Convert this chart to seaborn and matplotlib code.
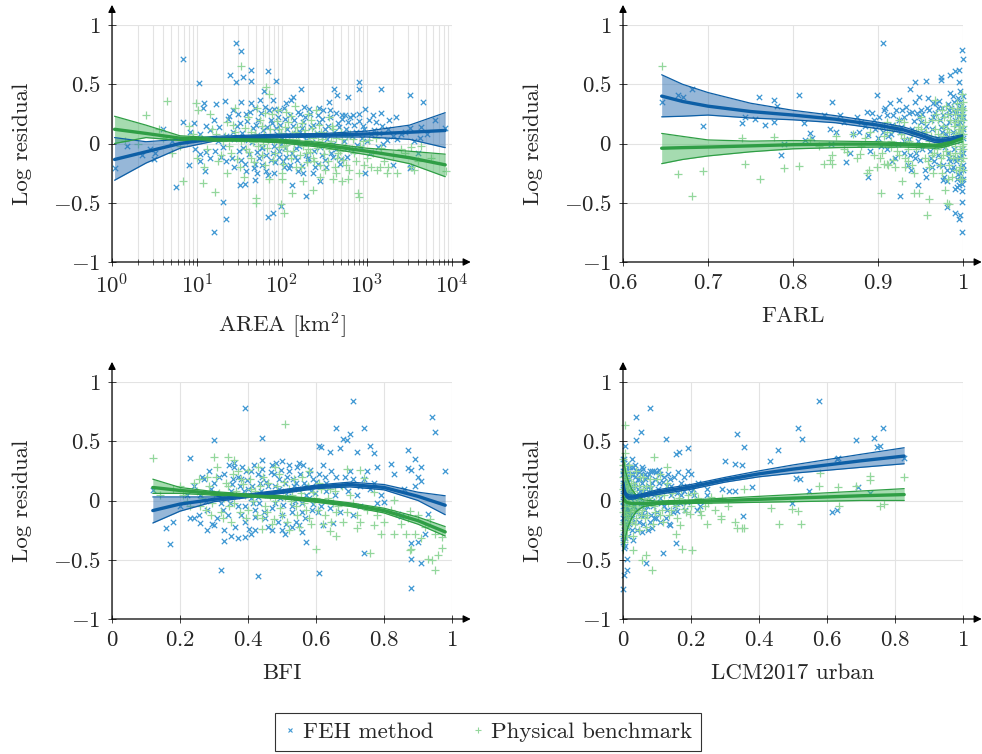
import numpy as np
import pandas as pd
import matplotlib
matplotlib.use("Agg")
import matplotlib.pyplot as plt
import seaborn as sns
from matplotlib.lines import Line2D

# ---------------- data ----------------
# Panel 1: AREA (stored as log10 of km^2), log residual
area_feh = [
    (1.46, 0.845), (1.52, 0.78), (0.84, 0.71), (1.02, 0.51), (1.39, 0.58), (1.46, 0.52), (1.54, 0.56),
    (1.64, 0.62), (1.63, 0.53), (1.84, 0.61), (1.93, 0.53), (2.90, 0.52), (2.90, 0.46), (3.16, 0.46),
    (3.51, 0.41), (3.66, 0.35), (2.78, 0.39), (2.61, 0.46), (2.65, 0.41), (2.22, 0.46), (2.13, 0.39),
    (0.75, -0.37), (1.30, -0.49), (1.34, -0.64), (1.20, -0.75), (1.84, -0.62), (1.89, -0.59),
    (1.99, -0.53), (2.28, -0.44), (2.12, -0.35), (2.45, -0.32), (1.51, -0.35), (1.57, -0.34),
    (1.68, -0.31), (2.98, -0.25), (3.31, -0.18), (0.90, -0.18), (1.03, -0.15), (1.09, -0.23),
    (0.03, -0.21), (0.35, -0.10), (0.49, -0.13), (0.18, -0.02), (0.50, -0.08), (0.84, 0.18),
    (0.96, 0.17), (1.08, 0.34), (1.07, 0.30), (1.22, 0.33), (1.33, 0.36), (3.50, -0.21),
    (3.60, -0.08), (3.52, -0.20), (3.62, 0.05), (3.64, 0.14), (3.92, 0.13), (3.50, 0.13),
    (3.34, 0.22), (3.16, 0.26), (3.26, 0.20), (3.07, 0.24), (2.98, 0.29), (2.90, 0.25),
    (2.83, 0.24), (2.74, 0.24), (2.70, 0.24), (2.56, 0.28), (2.55, 0.35), (2.48, 0.28),
    (2.42, 0.24), (2.32, 0.29), (2.26, 0.31), (2.21, 0.25), (2.11, 0.37), (2.05, 0.34),
    (1.97, 0.28), (1.89, 0.37), (1.85, 0.28), (1.79, 0.44), (1.74, 0.37), (1.68, 0.30),
    (1.64, 0.34), (1.58, 0.25), (1.52, 0.35), (1.48, 0.25), (1.42, 0.28), (1.38, 0.23),
    (1.03, -0.09), (1.11, -0.07), (1.21, -0.06), (1.28, -0.11), (1.34, -0.15), (1.44, -0.20),
    (1.52, -0.14), (1.58, -0.23), (1.68, -0.17), (1.70, -0.25), (1.77, -0.18), (1.81, -0.23),
    (1.87, -0.14), (1.91, -0.25), (2.02, -0.20), (2.09, -0.18), (2.15, -0.11), (2.19, -0.23),
    (2.25, -0.25), (2.30, -0.14), (2.36, -0.25), (2.42, -0.17), (2.47, -0.10), (2.52, -0.20),
    (2.60, -0.11), (2.68, -0.17), (2.76, -0.11), (2.83, -0.06), (2.93, -0.03), (3.03, -0.08),
    (3.13, -0.03), (3.19, 0.00), (1.03, 0.08), (1.15, 0.11), (1.26, 0.14), (1.34, 0.06),
    (1.42, 0.10), (1.50, 0.17), (1.60, 0.03), (1.66, 0.13), (1.72, 0.20), (1.77, -0.03),
    (1.83, 0.06), (1.87, 0.20), (1.93, 0.13), (1.99, 0.00), (2.03, 0.21), (2.07, 0.07),
    (2.13, 0.15), (2.17, -0.04), (2.21, 0.10), (2.25, 0.18), (2.28, 0.03), (2.34, 0.14),
    (2.38, -0.06), (2.44, 0.18), (2.49, 0.06), (2.54, 0.15), (2.60, 0.00), (2.66, 0.17),
    (2.72, 0.08), (2.78, 0.18), (2.87, 0.10), (2.95, 0.15), (3.05, 0.08), (3.11, 0.18),
    (3.23, 0.03), (3.31, 0.06), (3.40, 0.08), (1.97, -0.06), (1.70, -0.07), (1.54, -0.04),
    (2.28, -0.10), (2.05, -0.11), (1.89, -0.08),
]
area_feh_more = [
    (1.25, 0.02), (1.31, -0.03), (1.36, 0.21), (1.41, -0.12), (1.44, 0.04), (1.47, 0.15), (1.49, -0.06),
    (1.53, 0.09), (1.56, -0.17), (1.59, 0.19), (1.61, -0.09), (1.62, 0.27), (1.65, 0.01), (1.67, -0.21),
    (1.69, 0.16), (1.71, 0.07), (1.73, -0.12), (1.75, 0.26), (1.76, -0.04), (1.78, 0.11), (1.80, 0.31),
    (1.81, -0.10), (1.82, 0.14), (1.84, -0.27), (1.86, 0.03), (1.88, 0.17), (1.90, -0.02), (1.91, 0.29),
    (1.92, -0.16), (1.94, 0.08), (1.95, 0.22), (1.96, -0.11), (1.98, 0.16), (2.00, 0.05), (2.01, -0.15),
    (2.02, 0.30), (2.04, -0.04), (2.06, 0.12), (2.08, -0.21), (2.09, 0.24), (2.10, 0.02), (2.12, -0.08),
    (2.14, 0.20), (2.16, 0.09), (2.18, -0.14), (2.19, 0.27), (2.20, -0.02), (2.23, 0.13), (2.24, -0.19),
    (2.27, 0.22), (2.29, 0.06), (2.31, -0.12), (2.33, 0.25), (2.35, 0.01), (2.37, 0.16), (2.39, -0.20),
    (2.41, 0.09), (2.43, 0.30), (2.45, -0.03), (2.47, 0.21), (2.50, 0.12), (2.51, -0.14), (2.53, 0.04),
    (2.56, 0.22), (2.58, -0.08), (2.61, 0.10), (2.63, 0.26), (2.64, -0.05), (2.67, 0.14), (2.69, -0.13),
    (2.71, 0.21), (2.73, 0.02), (2.75, 0.12), (2.77, -0.04), (2.80, 0.22), (2.82, 0.06), (2.85, 0.16),
    (2.88, -0.01), (2.91, 0.19), (2.94, 0.05), (2.97, 0.12), (3.00, 0.02), (3.02, 0.20), (3.08, 0.11),
    (3.14, 0.09), (3.18, 0.15), (3.25, 0.12), (3.35, 0.04), (3.45, 0.10), (3.55, 0.02), (3.70, 0.08),
    (3.80, 0.20), (1.15, -0.12), (1.20, 0.20), (1.10, 0.15), (0.98, -0.05), (0.92, 0.10), (0.70, 0.02),
    (0.60, 0.12), (0.45, -0.05),
]
area_phys = [
    (1.52, 0.65), (0.65, 0.36), (0.40, 0.24), (0.84, -0.32), (1.07, -0.33), (1.21, -0.41),
    (1.69, -0.46), (1.69, -0.50), (1.99, -0.51), (2.02, -0.59), (2.12, -0.42), (2.37, -0.39),
    (2.89, -0.42), (2.90, -0.45), (2.78, -0.30), (2.64, -0.25), (3.23, -0.25), (3.15, -0.20),
    (3.52, -0.03), (3.64, -0.02), (3.52, -0.20), (3.93, -0.23), (0.99, 0.34), (1.01, 0.28),
    (0.91, 0.15), (1.85, 0.42), (1.81, 0.48),
    (1.05, 0.05), (1.12, -0.05), (1.18, 0.12), (1.25, -0.15), (1.30, 0.02), (1.35, 0.18),
    (1.40, -0.08), (1.45, 0.10), (1.50, -0.20), (1.55, 0.04), (1.60, 0.22), (1.63, -0.12),
    (1.68, 0.08), (1.72, -0.02), (1.76, 0.15), (1.80, -0.18), (1.84, 0.03), (1.88, 0.25),
    (1.92, -0.08), (1.96, 0.12), (2.00, -0.25), (2.03, 0.06), (2.07, 0.18), (2.10, -0.12),
    (2.14, 0.00), (2.18, 0.14), (2.22, -0.20), (2.26, 0.08), (2.30, -0.05), (2.34, 0.20),
    (2.38, -0.15), (2.42, 0.02), (2.46, 0.10), (2.50, -0.22), (2.55, -0.05), (2.60, 0.12),
    (2.65, -0.12), (2.70, 0.04), (2.75, -0.18), (2.80, 0.08), (2.85, -0.08), (2.90, -0.25),
    (2.95, 0.02), (3.00, -0.12), (3.05, -0.20), (3.10, 0.05), (3.20, -0.15), (3.30, -0.10),
    (3.45, -0.08), (3.60, -0.15), (1.45, 0.30), (1.70, 0.30), (1.95, 0.28), (2.15, 0.32),
    (2.40, 0.28), (1.55, -0.28), (1.85, -0.30), (2.25, -0.32), (2.60, -0.30), (0.60, 0.05),
    (0.30, 0.00), (0.80, -0.02), (0.95, 0.08), (1.00, -0.12), (0.15, 0.02), (1.78, 0.00),
    (1.90, 0.05), (2.02, -0.02), (2.12, 0.08), (2.20, 0.01), (2.28, -0.08), (2.36, 0.05),
    (1.66, 0.01), (1.58, -0.05), (2.48, -0.02), (2.58, 0.02), (2.68, -0.06), (1.98, 0.03),
    (2.06, -0.06), (2.16, 0.04),
]
area_phys_more = [
    (1.22, 0.08), (1.28, -0.10), (1.33, 0.06), (1.38, -0.02), (1.42, 0.16), (1.47, -0.13), (1.52, 0.02),
    (1.57, 0.13), (1.61, -0.07), (1.64, 0.10), (1.67, -0.16), (1.70, 0.05), (1.74, 0.20), (1.77, -0.10),
    (1.79, 0.07), (1.82, -0.04), (1.86, 0.12), (1.89, -0.14), (1.91, 0.02), (1.94, 0.19), (1.97, -0.03),
    (1.99, 0.09), (2.01, -0.17), (2.04, 0.14), (2.05, -0.01), (2.08, 0.04), (2.11, 0.23), (2.13, -0.06),
    (2.15, 0.10), (2.17, -0.20), (2.19, 0.06), (2.21, -0.10), (2.23, 0.17), (2.25, -0.02), (2.27, 0.11),
    (2.29, -0.16), (2.31, 0.03), (2.33, -0.07), (2.35, 0.13), (2.37, -0.12), (2.39, 0.08), (2.41, -0.04),
    (2.44, 0.16), (2.45, -0.18), (2.47, 0.04), (2.49, -0.09), (2.52, 0.07), (2.54, -0.15), (2.57, 0.00),
    (2.59, 0.15), (2.62, -0.20), (2.64, 0.05), (2.66, -0.08), (2.69, 0.10), (2.72, -0.14), (2.74, -0.02),
    (2.77, 0.06), (2.79, -0.22), (2.82, -0.05), (2.84, 0.04), (2.87, -0.15), (2.92, -0.02), (2.97, -0.18),
    (3.02, 0.03), (3.07, -0.08), (3.12, -0.22), (3.17, -0.04), (3.25, -0.20), (3.35, -0.25), (3.40, -0.05),
    (3.55, -0.22), (3.75, -0.12), (1.80, 0.26), (2.05, 0.27), (2.30, 0.25), (2.55, 0.22), (2.00, -0.30),
    (2.45, -0.28), (2.70, -0.32), (1.35, -0.25), (1.15, 0.25), (1.08, -0.20), (0.88, 0.02), (0.70, -0.08),
    (0.55, 0.12),
]
area_curve_log10 = [0.03, 0.4, 0.8, 1.2, 1.6, 2.0, 2.5, 3.0, 3.5, 3.92]
area_feh_fit = [-0.135, -0.07, 0.0, 0.04, 0.055, 0.065, 0.07, 0.08, 0.095, 0.11]
area_feh_hi = [0.05, 0.015, 0.035, 0.06, 0.07, 0.08, 0.085, 0.105, 0.155, 0.26]
area_feh_lo = [-0.31, -0.165, -0.04, 0.02, 0.04, 0.05, 0.055, 0.055, 0.035, -0.035]
area_phys_fit = [0.12, 0.085, 0.045, 0.035, 0.03, 0.02, -0.015, -0.065, -0.12, -0.18]
area_phys_hi = [0.23, 0.155, 0.065, 0.05, 0.04, 0.035, 0.005, -0.04, -0.065, -0.09]
area_phys_lo = [0.0, 0.05, 0.025, 0.02, 0.02, 0.005, -0.035, -0.095, -0.17, -0.28]

# Panel 2: FARL
farl_feh = [
    (0.6455, 0.35), (0.665, 0.41), (0.670, 0.39), (0.681, 0.46), (0.694, 0.15), (0.740, 0.17),
    (0.744, 0.22), (0.755, 0.21), (0.760, 0.39), (0.767, 0.16), (0.778, 0.37), (0.781, 0.32),
    (0.778, 0.18), (0.789, 0.0), (0.786, -0.10), (0.807, 0.41), (0.813, 0.17), (0.814, 0.03),
    (0.820, 0.09), (0.822, 0.05), (0.836, 0.24), (0.844, 0.12), (0.846, 0.35), (0.845, 0.0),
    (0.855, 0.24), (0.862, -0.16), (0.867, -0.08), (0.878, 0.10), (0.887, 0.27), (0.888, 0.07),
    (0.888, -0.28), (0.899, 0.41), (0.906, 0.845), (0.907, 0.28), (0.914, 0.34), (0.918, 0.24),
    (0.925, 0.37), (0.926, -0.44), (0.928, 0.28), (0.938, 0.46), (0.940, 0.27), (0.944, 0.52),
    (0.948, 0.39), (0.947, -0.35), (0.956, 0.53), (0.952, 0.25), (0.960, 0.28), (0.965, 0.34),
    (0.974, 0.56), (0.974, 0.54), (0.981, -0.535), (0.985, 0.43), (0.985, 0.58), (0.991, 0.61),
    (0.995, 0.62), (0.995, 0.52), (0.996, 0.445), (0.999, 0.79), (1.0, 0.71), (0.997, -0.605),
    (0.995, -0.635), (0.990, -0.59), (0.999, -0.49), (0.999, -0.745), (0.999, -0.34),
    (0.993, -0.37), (0.976, -0.31), (0.981, -0.225),
    (0.905, 0.15), (0.91, -0.05), (0.915, 0.08), (0.92, -0.12), (0.925, 0.20), (0.93, 0.02),
    (0.935, -0.18), (0.94, 0.12), (0.945, -0.08), (0.95, 0.18), (0.955, -0.22), (0.96, 0.05),
    (0.962, -0.12), (0.965, 0.22), (0.968, -0.02), (0.97, 0.30), (0.972, -0.18), (0.975, 0.10),
    (0.978, -0.28), (0.98, 0.15), (0.982, -0.08), (0.984, 0.25), (0.986, 0.02), (0.988, -0.20),
    (0.99, 0.20), (0.992, -0.12), (0.994, 0.08), (0.996, -0.25), (0.998, 0.32), (0.999, -0.05),
    (1.0, 0.12), (1.0, -0.18), (0.997, 0.18), (0.993, -0.30), (0.989, 0.35), (0.985, -0.15),
    (0.977, 0.05), (0.973, 0.20), (0.966, -0.15), (0.958, 0.30), (0.952, -0.05), (0.946, 0.26),
    (0.938, -0.10), (0.93, 0.22), (0.92, 0.12), (0.91, 0.24), (0.90, 0.05), (0.895, 0.20),
    (0.89, -0.06), (0.88, 0.18), (0.999, 0.25), (0.998, -0.10), (0.996, 0.05), (1.0, 0.30),
    (1.0, -0.30), (0.995, -0.35), (0.99, -0.38), (0.983, 0.28),
]
farl_feh_more = [
    (0.901, 0.22), (0.903, -0.02), (0.908, 0.30), (0.912, 0.06), (0.917, -0.15), (0.921, 0.28),
    (0.923, 0.00), (0.927, 0.14), (0.931, -0.08), (0.933, 0.31), (0.937, 0.04), (0.939, -0.22),
    (0.942, 0.19), (0.943, 0.35), (0.947, 0.02), (0.949, -0.14), (0.951, 0.28), (0.953, 0.10),
    (0.956, -0.28), (0.957, 0.15), (0.959, 0.38), (0.961, -0.06), (0.963, 0.12), (0.964, -0.20),
    (0.967, 0.26), (0.969, 0.05), (0.971, -0.10), (0.972, 0.36), (0.974, 0.14), (0.976, -0.18),
    (0.977, 0.24), (0.979, -0.03), (0.980, 0.08), (0.981, -0.32), (0.983, 0.18), (0.984, -0.12),
    (0.986, 0.30), (0.987, -0.22), (0.988, 0.10), (0.989, -0.05), (0.990, 0.26), (0.991, 0.05),
    (0.992, -0.15), (0.993, 0.16), (0.994, -0.26), (0.995, 0.24), (0.996, -0.12), (0.997, 0.02),
    (0.997, 0.35), (0.998, -0.20), (0.998, 0.14), (0.999, -0.40), (0.999, 0.20), (1.0, 0.05),
    (1.0, -0.08), (1.0, 0.40), (1.0, -0.22), (1.0, 0.22), (0.999, 0.10), (0.998, -0.30),
    (0.996, 0.30), (0.994, 0.38), (0.992, 0.28), (0.988, 0.40), (0.982, 0.33), (0.975, 0.30),
    (0.968, 0.34), (0.962, 0.20), (0.955, 0.08), (0.948, 0.22), (0.944, -0.12), (0.936, 0.26),
    (0.926, 0.10), (0.916, 0.16), (0.906, 0.10), (0.897, 0.12), (0.893, 0.26), (0.885, 0.15),
    (0.875, 0.22), (0.870, 0.08), (0.86, 0.18), (0.85, 0.10),
]
farl_phys = [
    (0.6455, 0.65), (0.665, -0.26), (0.681, -0.445), (0.694, -0.23), (0.740, 0.05), (0.744, -0.17),
    (0.761, -0.30), (0.778, 0.055), (0.789, -0.21), (0.807, -0.19), (0.836, -0.175), (0.846, -0.175),
    (0.844, -0.14), (0.846, -0.10), (0.863, -0.07), (0.879, -0.085), (0.887, -0.25), (0.889, -0.225),
    (0.899, -0.20), (0.903, -0.42), (0.907, -0.17), (0.910, -0.17), (0.918, -0.14), (0.928, -0.32),
    (0.932, -0.20), (0.942, -0.42), (0.948, -0.42), (0.958, -0.60), (0.960, -0.465), (0.967, 0.37),
    (0.979, -0.39), (0.981, -0.50), (0.983, -0.51), (0.999, 0.42),
    (0.90, 0.02), (0.905, -0.08), (0.91, 0.10), (0.915, -0.03), (0.92, 0.15), (0.925, -0.10),
    (0.93, 0.05), (0.935, -0.15), (0.94, 0.08), (0.945, -0.05), (0.95, 0.12), (0.955, -0.12),
    (0.96, 0.02), (0.963, 0.20), (0.966, -0.08), (0.97, 0.08), (0.973, -0.18), (0.976, 0.15),
    (0.979, -0.02), (0.982, 0.25), (0.985, -0.10), (0.988, 0.05), (0.99, 0.18), (0.992, -0.22),
    (0.994, 0.10), (0.996, -0.05), (0.998, 0.22), (1.0, 0.0), (1.0, 0.15), (1.0, -0.12),
    (0.999, 0.30), (0.997, -0.20), (0.993, 0.28), (0.987, -0.28), (0.98, 0.32), (0.975, -0.25),
    (0.968, 0.25), (0.96, -0.20), (0.95, 0.22), (0.94, -0.18), (0.93, 0.18), (0.92, -0.20),
    (0.91, 0.18), (0.89, 0.10), (0.88, -0.02), (0.87, 0.08), (0.86, -0.05), (0.85, 0.06),
    (0.83, -0.02), (0.82, 0.04), (0.998, 0.08), (0.995, 0.12), (0.991, -0.08), (0.984, 0.10),
    (0.977, -0.10), (0.999, -0.30), (1.0, 0.28), (0.999, 0.05),
]
farl_phys_more = [
    (0.902, -0.12), (0.907, 0.06), (0.912, -0.18), (0.917, 0.12), (0.922, -0.06), (0.927, 0.08),
    (0.932, -0.12), (0.937, 0.02), (0.942, -0.25), (0.947, 0.14), (0.952, -0.02), (0.957, 0.10),
    (0.959, -0.15), (0.962, 0.06), (0.965, -0.25), (0.967, 0.12), (0.969, -0.05), (0.971, 0.20),
    (0.972, 0.02), (0.974, -0.12), (0.976, 0.06), (0.978, 0.22), (0.980, -0.06), (0.981, 0.12),
    (0.983, -0.18), (0.985, 0.20), (0.986, 0.02), (0.988, -0.12), (0.989, 0.15), (0.990, -0.02),
    (0.991, 0.25), (0.992, 0.08), (0.993, -0.12), (0.994, 0.20), (0.995, -0.22), (0.996, 0.15),
    (0.997, 0.05), (0.997, -0.08), (0.998, 0.30), (0.998, -0.15), (0.999, 0.12), (0.999, -0.02),
    (1.0, 0.20), (1.0, -0.05), (1.0, 0.08), (1.0, -0.22), (1.0, 0.35), (0.999, 0.25),
    (0.996, -0.30), (0.993, 0.34), (0.987, 0.30), (0.982, -0.30), (0.975, 0.28), (0.963, -0.10),
    (0.955, 0.18), (0.945, 0.10), (0.935, -0.05), (0.925, 0.20), (0.915, 0.02), (0.905, 0.15),
    (0.895, -0.10), (0.885, 0.05), (0.875, -0.12),
]
farl_curve_x = [0.6455, 0.67, 0.70, 0.75, 0.80, 0.85, 0.90, 0.93, 0.95, 0.966, 0.975, 0.985, 1.0]
farl_feh_fit = [0.40, 0.355, 0.315, 0.27, 0.24, 0.205, 0.155, 0.115, 0.07, 0.03, 0.025, 0.035, 0.06]
farl_feh_hi = [0.58, 0.50, 0.43, 0.34, 0.28, 0.235, 0.18, 0.14, 0.095, 0.055, 0.045, 0.055, 0.075]
farl_feh_lo = [0.225, 0.23, 0.24, 0.215, 0.20, 0.175, 0.125, 0.09, 0.045, 0.01, 0.005, 0.02, 0.05]
farl_phys_fit = [-0.04, -0.035, -0.03, -0.02, -0.01, -0.005, -0.005, -0.01, -0.015, -0.02, -0.015, 0.005, 0.045]
farl_phys_hi = [0.085, 0.06, 0.03, 0.02, 0.025, 0.02, 0.015, 0.005, 0.0, -0.005, 0.0, 0.025, 0.075]
farl_phys_lo = [-0.17, -0.135, -0.105, -0.07, -0.045, -0.035, -0.03, -0.03, -0.035, -0.04, -0.035, -0.015, 0.015]

# Panel 3: BFI
bfi_feh = [
    (0.39, 0.78), (0.71, 0.84), (0.94, 0.705), (0.95, 0.58), (0.30, 0.51), (0.44, 0.525), (0.66, 0.615),
    (0.70, 0.565), (0.74, 0.61), (0.68, 0.52), (0.69, 0.51), (0.61, 0.46), (0.615, 0.455), (0.64, 0.41),
    (0.67, 0.44), (0.72, 0.41), (0.76, 0.46), (0.77, 0.40), (0.87, 0.43), (0.89, 0.35), (0.91, 0.285),
    (0.87, 0.275), (0.88, 0.26), (0.82, 0.31), (0.98, 0.25), (0.89, 0.12), (0.91, 0.165), (0.23, 0.355),
    (0.23, -0.15), (0.17, -0.37), (0.16, -0.23), (0.18, -0.18), (0.12, 0.09), (0.32, -0.59),
    (0.43, -0.635), (0.61, -0.61), (0.88, -0.74), (0.91, -0.53), (0.88, -0.49), (0.88, -0.355),
    (0.90, -0.35), (0.92, -0.28), (0.74, -0.44), (0.57, -0.35), (0.33, -0.34), (0.37, -0.32),
    (0.39, -0.31), (0.42, -0.25), (0.56, -0.27), (0.51, -0.28), (0.50, -0.25), (0.55, -0.21),
    (0.62, -0.21), (0.65, -0.19), (0.71, -0.12), (0.73, -0.05), (0.78, -0.02), (0.80, -0.01),
    (0.84, -0.11), (0.85, -0.13), (0.93, -0.11), (0.24, -0.15), (0.26, -0.19), (0.28, -0.25),
    (0.30, -0.21), (0.35, -0.30),
    (0.26, 0.05), (0.28, -0.08), (0.30, 0.15), (0.32, -0.02), (0.33, 0.22), (0.34, -0.12),
    (0.35, 0.08), (0.36, 0.28), (0.37, -0.05), (0.38, 0.18), (0.39, -0.18), (0.40, 0.10),
    (0.41, 0.25), (0.42, -0.08), (0.43, 0.03), (0.44, 0.20), (0.45, -0.15), (0.46, 0.12),
    (0.47, 0.30), (0.48, -0.02), (0.49, 0.18), (0.50, -0.12), (0.51, 0.08), (0.52, 0.25),
    (0.53, -0.05), (0.54, 0.15), (0.55, 0.32), (0.56, -0.10), (0.57, 0.05), (0.58, 0.22),
    (0.59, -0.03), (0.60, 0.16), (0.62, 0.30), (0.63, 0.08), (0.64, -0.06), (0.66, 0.20),
    (0.68, 0.12), (0.70, 0.25), (0.72, 0.05), (0.74, 0.18), (0.76, 0.10), (0.78, 0.28),
    (0.29, 0.10), (0.31, -0.15), (0.335, 0.02), (0.355, 0.18), (0.375, 0.12), (0.395, 0.25),
    (0.415, -0.02), (0.435, 0.15), (0.455, 0.05), (0.475, 0.22), (0.495, 0.02), (0.515, 0.20),
    (0.535, 0.12), (0.545, 0.28), (0.565, 0.15), (0.585, 0.08), (0.605, -0.10), (0.625, 0.20),
    (0.27, 0.18), (0.22, 0.05), (0.20, -0.05), (0.24, 0.12),
]
bfi_feh_more = [
    (0.255, -0.12), (0.265, 0.20), (0.275, 0.00), (0.285, 0.25), (0.295, -0.20), (0.305, 0.06),
    (0.315, 0.20), (0.325, -0.08), (0.345, 0.30), (0.348, -0.02), (0.352, 0.14), (0.362, -0.22),
    (0.368, 0.04), (0.372, 0.20), (0.378, -0.12), (0.382, 0.28), (0.388, 0.08), (0.392, -0.05),
    (0.398, 0.17), (0.402, -0.24), (0.408, 0.02), (0.412, 0.12), (0.418, 0.30), (0.422, -0.14),
    (0.428, 0.22), (0.432, -0.02), (0.438, 0.08), (0.442, 0.27), (0.448, -0.10), (0.452, 0.16),
    (0.458, -0.22), (0.462, 0.05), (0.468, 0.24), (0.472, -0.06), (0.478, 0.12), (0.482, 0.32),
    (0.488, -0.18), (0.492, 0.10), (0.498, 0.26), (0.502, -0.04), (0.508, 0.15), (0.512, -0.20),
    (0.518, 0.04), (0.522, 0.30), (0.528, -0.10), (0.532, 0.18), (0.538, 0.00), (0.542, -0.18),
    (0.548, 0.10), (0.552, 0.22), (0.558, -0.02), (0.562, 0.30), (0.568, -0.15), (0.572, 0.12),
    (0.578, 0.02), (0.582, 0.26), (0.588, -0.08), (0.592, 0.18), (0.598, 0.06), (0.61, 0.22),
    (0.615, -0.05), (0.63, 0.15), (0.645, 0.25), (0.655, 0.05), (0.67, -0.10), (0.685, 0.20),
    (0.695, 0.08), (0.71, 0.18), (0.73, 0.12), (0.75, 0.25), (0.77, 0.15), (0.79, 0.05),
    (0.83, 0.22), (0.86, 0.10), (0.90, 0.20), (0.33, -0.25), (0.41, -0.28), (0.47, -0.25),
    (0.53, -0.22), (0.36, 0.32), (0.44, 0.34), (0.50, 0.33),
]
bfi_phys = [
    (0.12, 0.36), (0.51, 0.645), (0.30, 0.37), (0.34, 0.37), (0.36, 0.34), (0.60, -0.41), (0.76, -0.44),
    (0.875, -0.42), (0.88, -0.41), (0.93, -0.49), (0.94, -0.50), (0.95, -0.59), (0.96, -0.46),
    (0.97, -0.40), (0.97, -0.31), (0.91, -0.32), (0.89, -0.28), (0.865, -0.28), (0.83, -0.28),
    (0.79, -0.28), (0.77, -0.21), (0.72, -0.23), (0.66, -0.30), (0.64, -0.26), (0.69, 0.27),
    (0.73, 0.26), (0.74, 0.19), (0.77, 0.075), (0.83, 0.005), (0.875, -0.09), (0.90, -0.12),
    (0.935, -0.16),
    (0.20, 0.12), (0.22, 0.0), (0.24, 0.15), (0.26, -0.05), (0.28, 0.20), (0.30, 0.05),
    (0.32, -0.10), (0.34, 0.12), (0.36, -0.02), (0.38, 0.18), (0.40, -0.08), (0.42, 0.08),
    (0.44, -0.15), (0.46, 0.15), (0.48, 0.0), (0.50, -0.12), (0.52, 0.10), (0.54, -0.05),
    (0.56, 0.20), (0.58, -0.15), (0.60, 0.02), (0.62, -0.20), (0.64, 0.10), (0.66, -0.10),
    (0.68, -0.18), (0.70, 0.05), (0.72, -0.12), (0.25, 0.08), (0.29, -0.12), (0.33, 0.02),
    (0.37, 0.25), (0.41, 0.10), (0.45, -0.05), (0.49, 0.22), (0.53, 0.05), (0.57, -0.08),
    (0.61, 0.15), (0.65, -0.02), (0.31, 0.28), (0.43, 0.28), (0.35, -0.18), (0.47, -0.20),
    (0.55, -0.22), (0.39, 0.05), (0.51, 0.03), (0.59, 0.07), (0.18, 0.10), (0.14, 0.05),
]
bfi_phys_more = [
    (0.21, 0.05), (0.23, -0.05), (0.255, 0.18), (0.265, 0.02), (0.275, -0.08), (0.285, 0.12),
    (0.295, -0.02), (0.305, 0.20), (0.315, 0.06), (0.325, -0.15), (0.335, 0.15), (0.345, -0.05),
    (0.355, 0.22), (0.365, 0.08), (0.375, -0.10), (0.385, 0.14), (0.395, -0.15), (0.405, 0.18),
    (0.415, 0.00), (0.425, -0.12), (0.435, 0.12), (0.445, 0.20), (0.455, -0.10), (0.465, 0.04),
    (0.475, -0.16), (0.485, 0.12), (0.495, -0.06), (0.505, 0.16), (0.515, -0.18), (0.525, 0.00),
    (0.535, 0.18), (0.545, -0.12), (0.555, 0.06), (0.565, -0.02), (0.575, 0.12), (0.585, -0.20),
    (0.595, 0.00), (0.605, -0.08), (0.615, 0.10), (0.625, -0.12), (0.635, 0.02), (0.645, -0.18),
    (0.655, 0.08), (0.665, -0.05), (0.675, 0.12), (0.69, -0.10), (0.71, -0.02), (0.73, -0.18),
    (0.75, -0.08), (0.78, -0.12), (0.80, -0.18), (0.82, -0.08), (0.85, -0.20), (0.87, -0.15),
    (0.92, -0.22), (0.95, -0.28), (0.40, 0.26), (0.48, 0.28), (0.58, 0.25), (0.52, -0.25),
    (0.44, -0.24),
]
bfi_curve_x = [0.12, 0.2, 0.3, 0.4, 0.5, 0.6, 0.7, 0.8, 0.9, 0.98]
bfi_feh_fit = [-0.085, -0.03, 0.01, 0.04, 0.075, 0.115, 0.135, 0.11, 0.035, -0.04]
bfi_feh_hi = [0.03, 0.03, 0.03, 0.055, 0.09, 0.13, 0.155, 0.135, 0.07, 0.04]
bfi_feh_lo = [-0.19, -0.09, -0.01, 0.025, 0.06, 0.10, 0.115, 0.09, 0.0, -0.12]
bfi_phys_fit = [0.11, 0.085, 0.06, 0.04, 0.027, 0.0, -0.035, -0.085, -0.17, -0.265]
bfi_phys_hi = [0.18, 0.11, 0.075, 0.055, 0.04, 0.015, -0.02, -0.065, -0.14, -0.22]
bfi_phys_lo = [0.06, 0.06, 0.045, 0.03, 0.015, -0.015, -0.05, -0.105, -0.20, -0.30]

# Panel 4: LCM2017 urban
urban_feh = [
    (0.577, 0.84), (0.078, 0.78), (0.038, 0.705), (0.054, 0.58), (0.038, 0.51), (0.127, 0.52),
    (0.006, 0.46), (0.19, 0.44), (0.166, 0.41), (0.156, 0.39), (0.335, 0.56), (0.356, 0.45),
    (0.514, 0.61), (0.526, 0.52), (0.455, 0.43), (0.433, 0.33), (0.35, 0.30), (0.33, 0.31),
    (0.30, 0.33), (0.686, 0.51), (0.739, 0.53), (0.764, 0.61), (0.747, 0.45), (0.755, 0.46),
    (0.63, 0.35), (0.633, 0.355), (0.827, 0.355), (0.69, 0.11), (0.725, 0.06), (0.51, 0.19),
    (0.52, 0.18), (0.546, 0.08), (0.496, -0.02), (0.616, -0.10), (0.629, -0.08), (0.38, 0.11),
    (0.33, 0.08), (0.313, 0.08), (0.29, 0.10), (0.354, -0.135), (0.246, 0.10), (0.246, 0.05),
    (0.227, -0.05), (0.20, 0.075), (0.217, -0.08), (0.187, -0.01), (0.16, -0.09), (0.156, -0.355),
    (0.119, -0.44), (0.134, -0.20), (0.138, -0.21), (0.109, -0.18), (0.09, -0.15), (0.084, -0.23),
    (0.067, -0.53), (0.055, -0.27), (0.028, -0.33), (0.011, -0.49), (0.011, -0.59), (0.003, -0.63),
    (0.001, -0.745), (0.009, 0.145),
    (0.002, 0.32), (0.004, 0.25), (0.006, 0.18), (0.008, 0.10), (0.01, 0.30), (0.012, -0.10),
    (0.015, 0.20), (0.018, -0.20), (0.02, 0.05), (0.022, 0.28), (0.025, -0.15), (0.028, 0.12),
    (0.03, 0.22), (0.033, -0.05), (0.036, 0.15), (0.04, -0.25), (0.043, 0.25), (0.046, 0.02),
    (0.05, 0.18), (0.053, -0.12), (0.056, 0.28), (0.06, 0.08), (0.065, -0.08), (0.07, 0.20),
    (0.075, 0.12), (0.08, -0.18), (0.085, 0.25), (0.09, 0.05), (0.095, 0.18), (0.10, -0.10),
    (0.105, 0.15), (0.11, 0.22), (0.12, -0.05), (0.13, 0.12), (0.14, 0.05), (0.15, 0.20),
    (0.17, 0.15), (0.18, 0.08), (0.001, -0.30), (0.003, -0.40), (0.005, -0.20), (0.007, 0.05),
    (0.009, -0.08), (0.001, 0.0), (0.002, 0.12), (0.004, -0.10), (0.014, 0.08), (0.024, -0.02),
    (0.034, 0.30), (0.044, 0.10), (0.054, -0.02), (0.064, 0.22), (0.074, -0.25), (0.084, 0.0),
    (0.0, 0.15), (0.0, -0.18), (0.0, 0.35), (0.0, 0.05), (0.001, 0.22), (0.003, 0.08),
    (0.006, -0.32), (0.016, -0.30), (0.026, 0.35), (0.038, -0.10), (0.048, 0.24), (0.058, -0.20),
    (0.068, 0.10), (0.078, 0.25), (0.088, -0.05), (0.098, 0.24), (0.108, 0.02), (0.118, 0.16),
    (0.128, -0.08), (0.138, 0.18), (0.148, -0.10), (0.158, 0.06), (0.168, -0.02), (0.178, 0.20),
    (0.188, 0.12), (0.20, 0.22), (0.21, 0.05), (0.22, 0.15), (0.23, 0.0),
]
urban_feh_more = [
    (0.0, 0.25), (0.0, -0.05), (0.0, -0.35), (0.001, 0.10), (0.001, -0.15), (0.002, 0.28), (0.002, -0.25),
    (0.003, 0.18), (0.003, -0.05), (0.004, 0.35), (0.005, 0.05), (0.005, -0.38), (0.006, 0.25),
    (0.007, -0.15), (0.008, 0.30), (0.009, 0.20), (0.010, -0.05), (0.011, 0.15), (0.012, 0.25),
    (0.013, -0.22), (0.015, 0.05), (0.016, 0.28), (0.017, -0.08), (0.019, 0.18), (0.021, -0.12),
    (0.023, 0.22), (0.025, 0.08), (0.027, -0.25), (0.029, 0.28), (0.031, 0.02), (0.032, -0.18),
    (0.035, 0.20), (0.037, 0.05), (0.039, 0.25), (0.041, -0.08), (0.045, 0.18), (0.047, -0.18),
    (0.049, 0.08), (0.052, 0.22), (0.055, -0.05), (0.057, 0.15), (0.059, 0.27), (0.062, -0.12),
    (0.066, 0.18), (0.069, 0.05), (0.072, -0.05), (0.076, 0.22), (0.079, 0.10), (0.082, -0.12),
    (0.086, 0.15), (0.092, 0.25), (0.096, -0.15), (0.102, 0.10), (0.107, 0.26), (0.112, -0.02),
    (0.116, 0.08), (0.122, 0.20), (0.126, -0.15), (0.132, 0.22), (0.142, 0.12), (0.152, -0.05),
    (0.162, 0.24), (0.172, 0.05), (0.182, -0.08), (0.192, 0.25), (0.205, 0.10),
]
urban_phys = [
    (0.006, 0.64), (0.091, 0.37), (0.13, 0.28), (0.03, -0.42), (0.055, -0.50), (0.084, -0.59),
    (0.067, -0.46), (0.173, -0.41), (0.204, -0.42), (0.156, -0.28), (0.168, -0.21), (0.246, -0.20),
    (0.288, -0.16), (0.33, -0.18), (0.335, -0.23), (0.35, -0.23), (0.357, -0.23), (0.436, -0.06),
    (0.46, -0.20), (0.496, -0.07), (0.514, -0.09), (0.524, -0.20), (0.575, 0.12), (0.578, 0.23),
    (0.632, 0.11), (0.634, -0.05), (0.686, 0.125), (0.725, 0.21), (0.725, 0.17), (0.757, -0.045),
    (0.767, -0.03), (0.827, 0.20), (0.356, 0.10), (0.288, -0.13), (0.227, -0.09), (0.197, -0.11),
    (0.178, -0.07), (0.133, -0.02),
    (0.005, 0.30), (0.008, 0.20), (0.01, -0.25), (0.012, 0.10), (0.015, -0.15), (0.02, 0.22),
    (0.025, -0.05), (0.03, 0.15), (0.035, -0.20), (0.04, 0.05), (0.045, -0.10), (0.05, 0.20),
    (0.055, -0.08), (0.06, 0.10), (0.065, -0.15), (0.07, 0.02), (0.08, 0.12), (0.09, -0.05),
    (0.10, 0.18), (0.11, -0.12), (0.12, 0.05), (0.13, 0.15), (0.14, -0.08), (0.15, 0.0),
    (0.16, -0.15), (0.17, 0.10), (0.18, -0.02), (0.19, 0.05), (0.20, -0.05), (0.22, 0.02),
    (0.24, -0.05), (0.26, 0.03), (0.003, -0.35), (0.006, 0.40), (0.002, 0.10), (0.004, -0.10),
    (0.001, 0.20), (0.0, -0.20), (0.0, 0.0), (0.007, -0.30), (0.018, 0.30), (0.028, -0.30),
    (0.038, 0.25), (0.048, -0.25), (0.058, 0.20), (0.068, -0.22), (0.078, 0.18), (0.088, -0.20),
    (0.098, 0.05), (0.108, 0.22), (0.118, -0.18),
]
urban_phys_more = [
    (0.0, 0.30), (0.0, -0.30), (0.0, 0.10), (0.001, -0.10), (0.001, 0.35), (0.002, -0.25), (0.002, 0.25),
    (0.003, 0.05), (0.003, -0.18), (0.004, 0.15), (0.005, -0.05), (0.006, -0.22), (0.007, 0.12),
    (0.008, -0.12), (0.009, 0.25), (0.010, 0.05), (0.011, -0.30), (0.013, 0.18), (0.014, -0.02),
    (0.016, 0.12), (0.017, -0.20), (0.019, 0.02), (0.021, -0.10), (0.023, 0.15), (0.026, -0.18),
    (0.029, 0.08), (0.032, -0.08), (0.036, 0.12), (0.039, -0.15), (0.042, 0.02), (0.047, 0.12),
    (0.052, -0.12), (0.057, 0.05), (0.062, -0.05), (0.067, 0.12), (0.072, -0.12), (0.077, 0.02),
    (0.085, 0.08), (0.095, -0.10), (0.105, 0.05), (0.115, -0.08), (0.125, 0.10), (0.135, -0.12),
    (0.145, 0.06), (0.155, -0.05), (0.165, 0.02), (0.185, -0.10), (0.21, 0.06), (0.23, -0.12),
    (0.25, -0.02), (0.27, -0.08), (0.29, 0.02), (0.31, -0.05),
]
urban_curve_x = [0.0, 0.003, 0.008, 0.015, 0.025, 0.04, 0.06, 0.1, 0.2, 0.3, 0.4, 0.5, 0.6, 0.7, 0.827]
urban_feh_fit = [0.15, 0.09, 0.05, 0.03, 0.028, 0.035, 0.045, 0.07, 0.115, 0.175, 0.225, 0.265, 0.30, 0.335, 0.375]
urban_feh_hi = [0.17, 0.11, 0.07, 0.05, 0.045, 0.05, 0.06, 0.09, 0.135, 0.195, 0.25, 0.30, 0.345, 0.39, 0.445]
urban_feh_lo = [0.13, 0.07, 0.03, 0.012, 0.01, 0.018, 0.03, 0.05, 0.095, 0.155, 0.20, 0.23, 0.255, 0.28, 0.31]
urban_phys_fit = [0.03, 0.005, -0.01, -0.02, -0.025, -0.025, -0.025, -0.02, -0.01, 0.0, 0.01, 0.02, 0.03, 0.04, 0.05]
urban_phys_hi = [0.40, 0.32, 0.24, 0.17, 0.10, 0.04, 0.005, -0.005, 0.005, 0.02, 0.035, 0.05, 0.065, 0.08, 0.10]
urban_phys_lo = [-0.45, -0.38, -0.30, -0.22, -0.15, -0.09, -0.05, -0.035, -0.025, -0.02, -0.015, -0.01, -0.005, 0.0, 0.0]

y_ticks = [-1, -0.5, 0, 0.5, 1]
y_tick_labels = [r"$-1$", r"$-0.5$", r"$0$", r"$0.5$", r"$1$"]
series_labels = ["FEH method", "Physical benchmark"]

# ---------------- style ----------------
sns.set_theme(style="white")
plt.rcParams["font.family"] = ["cmr10", "DejaVu Serif"]
plt.rcParams["mathtext.fontset"] = "cm"
plt.rcParams["axes.formatter.use_mathtext"] = True
plt.rcParams["axes.unicode_minus"] = False

FS = 16.5
FEH_PT = "#3f98d3"
FEH_LINE = "#0d5fa6"
FEH_BAND = "#2f70b2"
PHY_PT = "#93d79c"
PHY_LINE = "#2f9e45"
PHY_BAND = "#4cb862"
GRID = "#e3e3e3"

fig = plt.figure(figsize=(9.82, 7.54), dpi=100)
W, H = 340 / 982, 237 / 754
lefts = [112 / 982, 623 / 982]
bottoms = [1 - 262 / 754, 1 - 619 / 754]
axes = [fig.add_axes([lefts[c], bottoms[r], W, H]) for r in range(2) for c in range(2)]


def draw_panel(ax, feh, phys, cx, fm, fh, fl, pm, ph, pl, xlabel):
    fx, fy = zip(*feh)
    px, py = zip(*phys)
    sns.scatterplot(x=list(fx), y=list(fy), marker="x", s=15, color=FEH_PT, linewidth=0.9,
                    ax=ax, zorder=2, legend=False, clip_on=False)
    sns.scatterplot(x=list(px), y=list(py), marker="+", s=26, color=PHY_PT, linewidth=0.9,
                    ax=ax, zorder=2, legend=False, clip_on=False)
    for m, hi, lo, lc, bc in [(fm, fh, fl, FEH_LINE, FEH_BAND), (pm, ph, pl, PHY_LINE, PHY_BAND)]:
        ax.fill_between(cx, lo, hi, color=bc, alpha=0.5, lw=0, zorder=3)
        sns.lineplot(x=cx, y=hi, color=lc, lw=0.9, ax=ax, zorder=4, estimator=None, sort=False)
        sns.lineplot(x=cx, y=lo, color=lc, lw=0.9, ax=ax, zorder=4, estimator=None, sort=False)
        sns.lineplot(x=cx, y=m, color=lc, lw=2.4, ax=ax, zorder=5, estimator=None, sort=False)
    ax.set_ylim(-1, 1)
    ax.set_yticks(y_ticks)
    ax.set_yticklabels(y_tick_labels)
    ax.set_ylabel("Log residual", fontsize=FS, labelpad=15)
    ax.set_xlabel(xlabel, fontsize=FS, labelpad=10)
    for s in ax.spines.values():
        s.set_visible(False)
    ax.grid(True, which="major", color=GRID, lw=0.8, zorder=0)
    ax.set_axisbelow(True)
    ax.tick_params(axis="both", which="major", direction="inout", length=6, width=0.6,
                   color="#222222", labelsize=FS, bottom=True, left=True, pad=5)
    ax.annotate("", xy=(1.055, 0), xytext=(0, 0), xycoords="axes fraction",
                arrowprops=dict(arrowstyle="-|>", color="black", lw=0.9, mutation_scale=11,
                                shrinkA=0, shrinkB=0), annotation_clip=False, zorder=10)
    ax.annotate("", xy=(0, 1.085), xytext=(0, 0), xycoords="axes fraction",
                arrowprops=dict(arrowstyle="-|>", color="black", lw=0.9, mutation_scale=11,
                                shrinkA=0, shrinkB=0), annotation_clip=False, zorder=10)


# panel 1 (log x)
ax = axes[0]
area_feh_km2 = [(10 ** a, r) for a, r in area_feh + area_feh_more]
area_phys_km2 = [(10 ** a, r) for a, r in area_phys + area_phys_more]
area_curve_km2 = [10 ** a for a in area_curve_log10]
draw_panel(ax, area_feh_km2, area_phys_km2, area_curve_km2, area_feh_fit, area_feh_hi, area_feh_lo,
           area_phys_fit, area_phys_hi, area_phys_lo, r"AREA [km$^2$]")
ax.set_xscale("log")
ax.set_xlim(1, 1e4)
ax.xaxis.set_major_locator(matplotlib.ticker.FixedLocator([1, 10, 100, 1000, 10000]))
ax.set_xticklabels([r"$10^{0}$", r"$10^{1}$", r"$10^{2}$", r"$10^{3}$", r"$10^{4}$"])
minor_ticks = [m * 10 ** d for d in range(4) for m in range(2, 10)]
ax.xaxis.set_minor_locator(matplotlib.ticker.FixedLocator(minor_ticks))
ax.xaxis.set_minor_formatter(matplotlib.ticker.NullFormatter())
ax.grid(True, which="minor", axis="x", color=GRID, lw=0.8, zorder=0)
ax.tick_params(axis="x", which="minor", direction="inout", length=4, width=0.5,
               color="#222222", bottom=True)

# panel 2
ax = axes[1]
draw_panel(ax, farl_feh + farl_feh_more, farl_phys + farl_phys_more, farl_curve_x,
           farl_feh_fit, farl_feh_hi, farl_feh_lo, farl_phys_fit, farl_phys_hi, farl_phys_lo, "FARL")
ax.set_xlim(0.6, 1.0)
ax.set_xticks([0.6, 0.7, 0.8, 0.9, 1.0])
ax.set_xticklabels([r"$0.6$", r"$0.7$", r"$0.8$", r"$0.9$", r"$1$"])

# panel 3
ax = axes[2]
draw_panel(ax, bfi_feh + bfi_feh_more, bfi_phys + bfi_phys_more, bfi_curve_x,
           bfi_feh_fit, bfi_feh_hi, bfi_feh_lo, bfi_phys_fit, bfi_phys_hi, bfi_phys_lo, "BFI")
ax.set_xlim(0, 1)
ax.set_xticks([0, 0.2, 0.4, 0.6, 0.8, 1.0])
ax.set_xticklabels([r"$0$", r"$0.2$", r"$0.4$", r"$0.6$", r"$0.8$", r"$1$"])

# panel 4
ax = axes[3]
draw_panel(ax, urban_feh + urban_feh_more, urban_phys + urban_phys_more, urban_curve_x,
           urban_feh_fit, urban_feh_hi, urban_feh_lo, urban_phys_fit, urban_phys_hi, urban_phys_lo,
           "LCM2017 urban")
ax.set_xlim(0, 1)
ax.set_xticks([0, 0.2, 0.4, 0.6, 0.8, 1.0])
ax.set_xticklabels([r"$0$", r"$0.2$", r"$0.4$", r"$0.6$", r"$0.8$", r"$1$"])

handles = [
    Line2D([], [], ls="", marker="x", color=FEH_PT, ms=3.5, mew=0.8),
    Line2D([], [], ls="", marker="+", color=PHY_PT, ms=4.5, mew=0.8),
]
leg = fig.legend(handles, series_labels, loc="center", bbox_to_anchor=(0.497, 0.029), ncol=2,
                 frameon=True, fancybox=False, edgecolor="black", fontsize=FS,
                 handlelength=0.5, handletextpad=0.3, columnspacing=1.7, borderpad=0.4,
                 borderaxespad=0)
leg.get_frame().set_linewidth(0.8)

fig.savefig("out.png", dpi=100)
